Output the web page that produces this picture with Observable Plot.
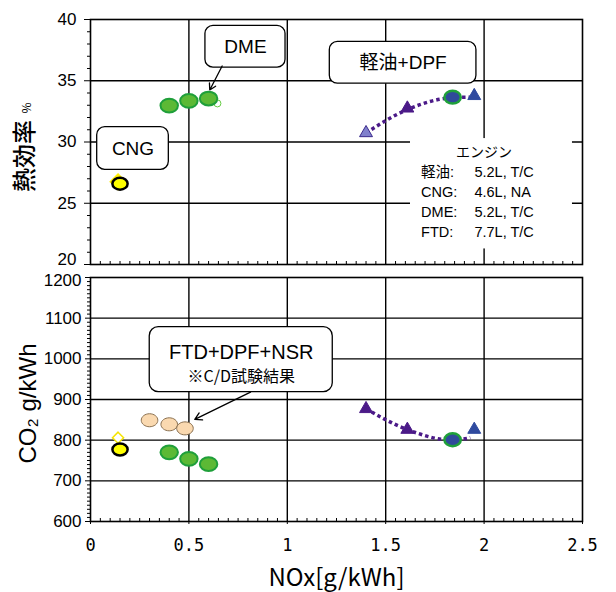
<!DOCTYPE html>
<html><head><meta charset="utf-8">
<script src="https://cdn.jsdelivr.net/npm/d3@7"></script>
<script src="https://cdn.jsdelivr.net/npm/@observablehq/plot@0.6"></script>
<style>
body{margin:0;background:#fff;}
#chart{width:616px;height:592px;position:relative;background:#fff;}
#chart svg{display:block;}
</style></head><body><div id="chart"></div>
<script>
// ---------- axis ticks ----------
const xTicks = [0, 0.5, 1, 1.5, 2, 2.5];
const xLabels = ["0", "0.5", "1", "1.5", "2", "2.5"];
const effTicks = [20, 25, 30, 35, 40];
const co2Ticks = [600, 700, 800, 900, 1000, 1100, 1200];

// ---------- data: NOx [g/kWh], thermal efficiency [%], CO2 [g/kWh] ----------
const cngNox = [0.15];
const cngEff = [26.6];
const cngCo2 = [777];
const cngRefNox = [0.14];
const cngRefEff = [26.75];
const cngRefCo2 = [806];

const dmeNox = [0.40, 0.50, 0.60];
const dmeEff = [32.97, 33.36, 33.55];
const dmeCo2 = [770, 754, 741];
const dmeRefNox = [0.645];
const dmeRefEff = [33.15];

const ftdNox = [0.30, 0.40, 0.48];
const ftdCo2 = [849, 839, 829];

const dieselNox = [1.40, 1.61, 1.95];
const dieselEff = [30.74, 32.75, 33.77];
const dieselCo2 = [877, 826, 826];
const dieselEffColors = ["#8080cc", "#4b1a88", "#2f4a9f"];
const dieselEffStrokes = ["#3b2a8c", "#4b1a88", "#2f4a9f"];
const dieselCo2Colors = ["#4b1a88", "#4b1a88", "#2f4a9f"];

const dpfNox = [1.84];
const dpfEff = [33.66];
const dpfCo2 = [801];

const trendNox = [1.40, 1.61, 1.84, 1.93];
const trendEff = [30.74, 32.65, 33.62, 33.66];
const trendCo2 = [877, 826, 800, 806];

// ---------- annotations ----------
const topBoxLabels = ["DME", "CNG", "軽油+DPF"];
const topBoxX1 = [0.584, 0.034, 1.216];
const topBoxX2 = [0.991, 0.398, 1.961];
const topBoxY1 = [39.48, 31.21, 38.17];
const topBoxY2 = [36.07, 27.73, 34.76];
const engineTitle = "エンジン";
const engineNames = ["軽油:", "CNG:", "DME:", "FTD:"];
const engineSpecs = ["5.2L, T/C", "4.6L, NA", "5.2L, T/C", "7.7L, T/C"];
const engineRowEff = [27.53, 25.9, 24.26, 22.62];
const ftdBoxTitle = "FTD+DPF+NSR";
const ftdBoxNote = "※C/D試験結果";

// ---------- helpers ----------
const zip = (keys, ...cols) => cols[0].map((_, i) => Object.fromEntries(keys.map((k, j) => [k, cols[j][i]])));
const range = (a, b, s) => { const o = []; for (let i = 0; a + i * s <= b + 1e-9; i++) o.push(+(a + i * s).toFixed(4)); return o; };
const xMinor = range(0, 2.5, 0.05).filter(v => Math.abs(v * 2 - Math.round(v * 2)) > 1e-6);
const effMinor = range(20, 40, 1).filter(v => v % 5 !== 0);
const co2Minor = range(600, 1200, 10).filter(v => v % 100 !== 0);

const ellipse = {
  draw(ctx, size) {
    const r = Math.sqrt(size / Math.PI), rx = r * 1.12, ry = r * 0.88, k = 0.5523;
    ctx.moveTo(rx, 0);
    ctx.bezierCurveTo(rx, ry * k, rx * k, ry, 0, ry);
    ctx.bezierCurveTo(-rx * k, ry, -rx, ry * k, -rx, 0);
    ctx.bezierCurveTo(-rx, -ry * k, -rx * k, -ry, 0, -ry);
    ctx.bezierCurveTo(rx * k, -ry, rx, -ry * k, rx, 0);
    ctx.closePath();
  }
};

const SANS = "Liberation Sans, Arial, Noto Sans CJK JP, sans-serif";
const JP = "Noto Sans CJK JP, sans-serif";
const gridStyle = {stroke: "#000", strokeOpacity: 1, strokeWidth: 1.4};
const trendStyle = {stroke: "#4b1a88", strokeWidth: 3.5, strokeDasharray: "3.5 3", strokeLinecap: "butt", curve: "monotone-x"};
const W = 616, ML = 90, MR = 34;
const effMin = effTicks[0], co2Max = co2Ticks[co2Ticks.length - 1];

// ---------- top panel: thermal efficiency ----------
const topBoxes = zip(["label", "x1", "x2", "y1", "y2"], topBoxLabels, topBoxX1, topBoxX2, topBoxY1, topBoxY2);
const engineRows = zip(["name", "spec", "y"], engineNames, engineSpecs, engineRowEff);

const topPlot = Plot.plot({
  width: W, height: 266,
  marginLeft: ML, marginRight: MR, marginTop: 19, marginBottom: 2,
  x: {domain: [0, 2.5]},
  y: {domain: [20, 40]},
  style: {fontFamily: SANS, fontSize: "17px", color: "#000", background: "transparent", overflow: "visible"},
  marks: [
    Plot.gridX({ticks: xTicks.slice(1, -1), ...gridStyle}),
    Plot.gridY({ticks: effTicks.slice(1, -1), ...gridStyle}),
    Plot.rect([0], {x1: 1.626, x2: 2.449, y1: 30.28, y2: 21.27, fill: "#fff"}),
    Plot.axisX({ticks: xMinor, tickSize: 3, dy: -3, tickFormat: () => "", label: null}),
    Plot.axisY({ticks: effMinor, tickSize: 3, tickFormat: () => "", label: null}),
    Plot.axisY({ticks: effTicks, tickSize: 6, tickPadding: 8, tickFormat: d => d === effMin ? "" : String(d), label: null, fontSize: 17}),
    Plot.axisY({ticks: [effMin], tickSize: 0, tickPadding: 14, tickFormat: d => String(d), label: null, fontSize: 17, dy: -5}),
    Plot.frame({stroke: "#000", strokeWidth: 1.6}),
    Plot.rect(topBoxes, {x1: "x1", x2: "x2", y1: "y1", y2: "y2", fill: "#fff", stroke: "#000", strokeWidth: 1.3, rx: 8}),
    Plot.text(topBoxes, {x: d => (d.x1 + d.x2) / 2, y: d => (d.y1 + d.y2) / 2, text: "label", fontSize: 19, fontFamily: SANS}),
    Plot.arrow([0], {x1: 0.669, y1: 36.2, x2: 0.606, y2: 34.25, stroke: "#000", strokeWidth: 1.3, headLength: 8}),
    Plot.text([engineTitle], {x: 2.0, y: 29.14, text: d => d, fontSize: 14, fontFamily: JP}),
    Plot.text(engineRows, {x: 1.68, y: "y", text: "name", textAnchor: "start", fontSize: 14.5, fontFamily: SANS}),
    Plot.text(engineRows, {x: 1.951, y: "y", text: "spec", textAnchor: "start", fontSize: 14.5, fontFamily: SANS}),
    Plot.line(zip(["x", "y"], trendNox, trendEff), {x: "x", y: "y", ...trendStyle}),
    Plot.dot(zip(["x", "y"], cngRefNox, cngRefEff), {x: "x", y: "y", symbol: "diamond2", r: 7, fill: "#ffee00", stroke: "#ffee00"}),
    Plot.dot(zip(["x", "y"], cngNox, cngEff), {x: "x", y: "y", symbol: ellipse, r: 6.8, fill: "#ffff00", stroke: "#000", strokeWidth: 2.5}),
    Plot.dot(zip(["x", "y"], dmeRefNox, dmeRefEff), {x: "x", y: "y", r: 3.5, fill: "#fff", stroke: "#66cc44", strokeWidth: 1}),
    Plot.dot(zip(["x", "y"], dmeNox, dmeEff), {x: "x", y: "y", symbol: ellipse, r: 7.8, fill: "#5cb935", stroke: "#1f9f3a", strokeWidth: 2}),
    Plot.dot(zip(["x", "y", "f", "s"], dieselNox, dieselEff, dieselEffColors, dieselEffStrokes), {x: "x", y: "y", symbol: "triangle", r: 4.8, fill: "f", stroke: "s", strokeWidth: 1}),
    Plot.dot(zip(["x", "y"], dpfNox, dpfEff), {x: "x", y: "y", symbol: ellipse, r: 7.3, fill: "#2f4a9a", stroke: "#1fa03a", strokeWidth: 2.5}),
    Plot.text(["熱効率"], {frameAnchor: "left", dx: -65, dy: 14, rotate: -90, textAnchor: "middle", lineAnchor: "middle", text: d => d, fontSize: 24, fontFamily: JP, fontWeight: 500}),
    Plot.text(["%"], {frameAnchor: "left", dx: -63, dy: -34, rotate: -90, textAnchor: "middle", lineAnchor: "middle", text: d => d, fontSize: 12, fontFamily: JP})
  ]
});

// ---------- bottom panel: CO2 ----------
const bottomPlot = Plot.plot({
  width: W, height: 326,
  marginLeft: ML, marginRight: MR, marginTop: 11, marginBottom: 71,
  x: {domain: [0, 2.5]},
  y: {domain: [600, 1200]},
  style: {fontFamily: SANS, fontSize: "17px", color: "#000", background: "transparent", overflow: "visible"},
  marks: [
    Plot.gridX({ticks: xTicks.slice(1, -1), ...gridStyle}),
    Plot.gridY({ticks: co2Ticks.slice(1, -1), ...gridStyle}),
    Plot.axisX({ticks: xMinor, tickSize: 3, dy: -3, tickFormat: () => "", label: null}),
    Plot.axisX({ticks: xTicks, tickSize: 3, tickPadding: 14, label: null, tickFormat: d => xLabels[xTicks.indexOf(d)], fontFamily: "DejaVu Sans Mono, monospace", fontSize: 17}),
    Plot.axisY({ticks: co2Minor, tickSize: 3, tickFormat: () => "", label: null}),
    Plot.axisY({ticks: co2Ticks, tickSize: 5, tickPadding: 4, tickFormat: d => d === co2Max ? "" : String(d), label: null, fontSize: 17}),
    Plot.axisY({ticks: [co2Max], tickSize: 0, tickPadding: 9, tickFormat: d => String(d), label: null, fontSize: 17, dy: 3}),
    Plot.frame({stroke: "#000", strokeWidth: 1.6}),
    Plot.rect([0], {x1: 0.301, x2: 1.231, y1: 1077.8, y2: 918.0, fill: "#fff", stroke: "#000", strokeWidth: 1.3, rx: 9}),
    Plot.text([ftdBoxTitle], {x: 0.766, y: 1015.6, text: d => d, fontSize: 20, fontFamily: SANS}),
    Plot.text([ftdBoxNote], {x: 0.766, y: 956.6, text: d => d, fontSize: 16, fontFamily: JP}),
    Plot.arrow([0], {x1: 0.813, y1: 918, x2: 0.53, y2: 851, stroke: "#000", strokeWidth: 1.3, headLength: 9}),
    Plot.line(zip(["x", "y"], trendNox, trendCo2), {x: "x", y: "y", ...trendStyle}),
    Plot.dot(zip(["x", "y"], cngRefNox, cngRefCo2), {x: "x", y: "y", symbol: "diamond2", r: 5, fill: "#fff", stroke: "#f5e400", strokeWidth: 1.5}),
    Plot.dot(zip(["x", "y"], cngNox, cngCo2), {x: "x", y: "y", symbol: ellipse, r: 6.8, fill: "#ffff00", stroke: "#000", strokeWidth: 2.5}),
    Plot.dot(zip(["x", "y"], ftdNox, ftdCo2), {x: "x", y: "y", symbol: ellipse, r: 7.4, fill: "#fad9b0", stroke: "#8a7050", strokeWidth: 1}),
    Plot.dot(zip(["x", "y"], dmeNox, dmeCo2), {x: "x", y: "y", symbol: ellipse, r: 7.8, fill: "#5cb935", stroke: "#1f9f3a", strokeWidth: 2}),
    Plot.dot(zip(["x", "y", "f"], dieselNox, dieselCo2, dieselCo2Colors), {x: "x", y: "y", symbol: "triangle", r: 4.8, fill: "f", stroke: "f", strokeWidth: 1}),
    Plot.dot(zip(["x", "y"], dpfNox, dpfCo2), {x: "x", y: "y", symbol: ellipse, r: 7.3, fill: "#2f4a9a", stroke: "#1fa03a", strokeWidth: 2.5}),
    Plot.text(["CO₂ g/kWh"], {frameAnchor: "left", dx: -62, dy: 4, rotate: -90, textAnchor: "middle", lineAnchor: "middle", text: d => d, fontSize: 24, fontFamily: SANS}),
    Plot.text(["NOx[g/kWh]"], {frameAnchor: "bottom", dy: 57, textAnchor: "middle", lineAnchor: "middle", text: d => d, fontSize: 24, fontFamily: JP})
  ]
});

const chart = document.getElementById("chart");
chart.appendChild(topPlot);
chart.appendChild(bottomPlot);
</script></body></html>
